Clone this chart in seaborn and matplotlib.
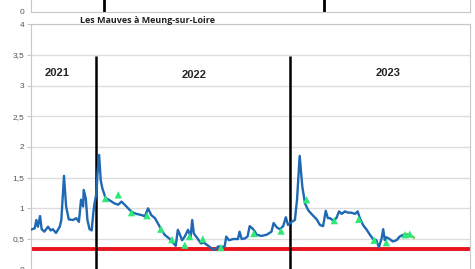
import pandas as pd
import matplotlib.pyplot as plt
import matplotlib.dates as mdates
from matplotlib.ticker import FuncFormatter
import seaborn as sns

# daily level series
dates = ['2021-08-31', '2021-09-08', '2021-09-11', '2021-09-14', '2021-09-18', '2021-09-21',
         '2021-09-26', '2021-10-03', '2021-10-08', '2021-10-12', '2021-10-18', '2021-10-25',
         '2021-10-28', '2021-11-02', '2021-11-06', '2021-11-11', '2021-11-19', '2021-11-25',
         '2021-11-30', '2021-12-04', '2021-12-08', '2021-12-09', '2021-12-13', '2021-12-16',
         '2021-12-20', '2021-12-24', '2021-12-27', '2021-12-29', '2022-01-02', '2022-01-04',
         '2022-01-07', '2022-01-10', '2022-01-13', '2022-01-19', '2022-01-27', '2022-02-05',
         '2022-02-12', '2022-02-18', '2022-02-24', '2022-03-06', '2022-03-12', '2022-03-18',
         '2022-03-28', '2022-04-03', '2022-04-09', '2022-04-15', '2022-04-22', '2022-05-01',
         '2022-05-10', '2022-05-20', '2022-05-25', '2022-05-31', '2022-06-04', '2022-06-07',
         '2022-06-12', '2022-06-17', '2022-06-23', '2022-06-28', '2022-07-01', '2022-07-04',
         '2022-07-11', '2022-07-17', '2022-07-23', '2022-07-31', '2022-08-06', '2022-08-12',
         '2022-08-19', '2022-08-25', '2022-08-31', '2022-09-03', '2022-09-08', '2022-09-16',
         '2022-09-25', '2022-09-28', '2022-10-02', '2022-10-08', '2022-10-13', '2022-10-17',
         '2022-10-22', '2022-10-27', '2022-10-30', '2022-11-08', '2022-11-18', '2022-11-27',
         '2022-12-01', '2022-12-07', '2022-12-13', '2022-12-19', '2022-12-24', '2022-12-28',
         '2023-01-04', '2023-01-10', '2023-01-14', '2023-01-19', '2023-01-24', '2023-01-29',
         '2023-02-04', '2023-02-10', '2023-02-20', '2023-02-26', '2023-03-04', '2023-03-09',
         '2023-03-13', '2023-03-17', '2023-03-23', '2023-03-29', '2023-04-03', '2023-04-08',
         '2023-04-14', '2023-04-20', '2023-04-26', '2023-05-03', '2023-05-08', '2023-05-12',
         '2023-05-18', '2023-05-25', '2023-05-31', '2023-06-06', '2023-06-12', '2023-06-17',
         '2023-06-22', '2023-06-25', '2023-06-28', '2023-07-01', '2023-07-07', '2023-07-13',
         '2023-07-20', '2023-07-26', '2023-08-02', '2023-08-08']
levels = [0.65, 0.675, 0.81, 0.70, 0.875, 0.66,
          0.62, 0.70, 0.64, 0.66, 0.60, 0.70,
          0.81, 1.53, 1.03, 0.82, 0.81, 0.84,
          0.78, 1.14, 1.03, 1.30, 1.16, 0.81,
          0.66, 0.64, 0.92, 1.06, 1.25, 1.57,
          1.87, 1.46, 1.33, 1.17, 1.13, 1.08,
          1.06, 1.11, 1.06, 0.97, 0.93, 0.91,
          0.89, 0.87, 1.00, 0.89, 0.84, 0.70,
          0.57, 0.50, 0.45, 0.39, 0.65, 0.59,
          0.48, 0.54, 0.65, 0.54, 0.81, 0.59,
          0.51, 0.43, 0.44, 0.39, 0.35, 0.32,
          0.38, 0.37, 0.38, 0.54, 0.48, 0.50,
          0.50, 0.62, 0.50, 0.51, 0.54, 0.71,
          0.675, 0.62, 0.57, 0.55, 0.57, 0.62,
          0.76, 0.69, 0.66, 0.71, 0.855, 0.73,
          0.78, 0.81, 1.14, 1.855, 1.35, 1.08,
          0.97, 0.91, 0.82, 0.73, 0.71, 0.96,
          0.84, 0.84, 0.80, 0.84, 0.95, 0.91,
          0.95, 0.93, 0.93, 0.91, 0.95, 0.84,
          0.73, 0.65, 0.57, 0.50, 0.48, 0.365,
          0.51, 0.66, 0.48, 0.53, 0.50, 0.46,
          0.48, 0.54, 0.57, 0.58]

# provisional tail (drawn in light green)
prov_dates = ['2023-08-08', '2023-08-14', '2023-08-22']
prov_levels = [0.58, 0.57, 0.52]

# spot measurements (triangles)
meas_dates = ['2022-01-19', '2022-02-12', '2022-03-09', '2022-04-07', '2022-05-03', '2022-05-24',
              '2022-06-17', '2022-06-26', '2022-07-21', '2022-08-24', '2022-10-25', '2022-12-15',
              '2023-02-01', '2023-03-25', '2023-05-10', '2023-06-08', '2023-07-01', '2023-08-05',
              '2023-08-14']
meas_levels = [1.16, 1.22, 0.93, 0.88, 0.66, 0.49,
               0.40, 0.54, 0.50, 0.36, 0.59, 0.63,
               1.14, 0.80, 0.82, 0.48, 0.44, 0.57,
               0.58]

threshold = 0.34
year_starts = ['2022-01-01', '2023-01-01']
year_labels = ['2021', '2022', '2023']
year_label_dates = ['2021-10-20', '2022-07-05', '2023-07-05']
year_label_y = [3.2, 3.18, 3.2]

df = pd.DataFrame({'date': pd.to_datetime(dates), 'level': levels})
df_prov = pd.DataFrame({'date': pd.to_datetime(prov_dates), 'level': prov_levels})
df_meas = pd.DataFrame({'date': pd.to_datetime(meas_dates), 'level': meas_levels})

sns.set_style("white")
plt.rcParams['font.family'] = ['Liberation Sans', 'DejaVu Sans']

fig = plt.figure(figsize=(4.75, 2.69), dpi=100)
grey = '#c8c8c8'

# bottom of the chart above (cropped)
ax_top = fig.add_axes([0.0653, 0.9565, 0.924, 0.1])
ax_top.set_xlim(pd.Timestamp('2021-09-01'), pd.Timestamp('2023-09-01'))
ax_top.set_ylim(0, 1)
ax_top.vlines(pd.to_datetime(year_starts), 0, 1, color='black', lw=2)
ax_top.xaxis.set_major_locator(mdates.MonthLocator(bymonth=[1, 3, 5, 7, 9, 11]))
ax_top.set_xticklabels([])
ax_top.set_yticks([0])
ax_top.set_yticklabels(['0'])
ax_top.tick_params(axis='both', length=3, color=grey, labelsize=6, labelcolor='#555555', pad=2)
for side in ['left', 'bottom', 'right']:
    ax_top.spines[side].set_color(grey)
ax_top.spines['top'].set_visible(False)

# main chart
ax = fig.add_axes([0.0653, -0.0026, 0.924, 0.9123])
ax.set_xlim(pd.Timestamp('2021-09-01'), pd.Timestamp('2023-12-05'))
ax.set_ylim(0, 4)
ax.set_yticks([0, 0.5, 1, 1.5, 2, 2.5, 3, 3.5, 4])
ax.yaxis.set_major_formatter(FuncFormatter(lambda v, p: f"{v:g}".replace('.', ',')))
ax.grid(axis='y', color='#dddddd', lw=1)
ax.set_axisbelow(True)
ax.set_xticks([])
ax.tick_params(axis='y', length=3, color=grey, labelsize=6, labelcolor='#555555', pad=2)
ax.tick_params(axis='y', left=True)
for side in ax.spines:
    ax.spines[side].set_color(grey)

ax.axhline(threshold, color='#e8141c', lw=2.8, zorder=2)
ax.vlines(pd.to_datetime(year_starts), 0, 3.48, color='black', lw=1.8, zorder=3)

sns.lineplot(data=df, x='date', y='level', color='#1f68b3', lw=1.7, ax=ax, zorder=4)
sns.lineplot(data=df_prov, x='date', y='level', color='#7cbf4a', lw=1.7, ax=ax, zorder=4)
sns.scatterplot(data=df_meas, x='date', y='level', marker='^', color='#2ee878', s=28,
                edgecolor='none', ax=ax, zorder=5)
ax.set_xlabel('')
ax.set_ylabel('')

for lab, d, y in zip(year_labels, year_label_dates, year_label_y):
    ax.text(pd.Timestamp(d), y, lab, fontsize=8, fontweight='bold', ha='center', va='center')

fig.text(0.168, 0.925, 'Les Mauves à Meung-sur-Loire', fontsize=6.5, fontweight='bold',
         family=['Open Sans', 'DejaVu Sans'], ha='left', va='center', color='#222222')

fig.savefig('out.png', dpi=100)
